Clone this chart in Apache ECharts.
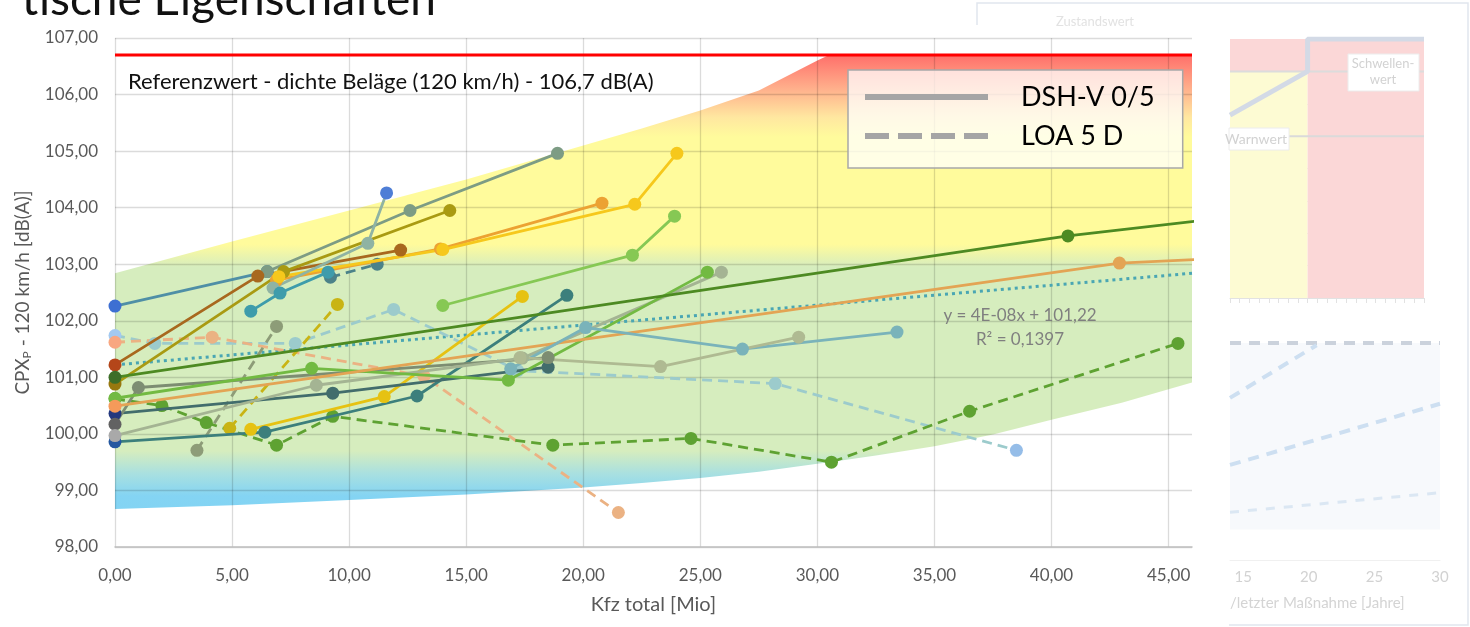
<!DOCTYPE html>
<html>
<head>
<meta charset="utf-8">
<title>CPX - Kfz total</title>
<script src="https://cdn.jsdelivr.net/npm/echarts@6/dist/echarts.min.js"></script>
<style>
  html, body { margin: 0; padding: 0; background: #fff; }
  #chart { width: 1470px; height: 627px; }
</style>
</head>
<body>
<div id="chart"></div>
<script>
// --- axes ---
var xMin = 0, xMax = 46, xStep = 5;
var yMin = 98, yMax = 107, yStep = 1;

// --- background band (Kfz total, dB(A)) ---
var bandX     = [0, 5, 10, 15, 20, 22.5, 25, 27.5, 30, 30.5, 32.5, 35, 37.5, 40, 43, 46];
var bandUpper = [102.84, 103.4, 103.95, 104.5, 105.1, 105.4, 105.72, 106.07, 106.6, 106.7, 106.7, 106.7, 106.7, 106.7, 106.7, 106.7];
var bandLower = [98.67, 98.74, 98.83, 98.93, 99.05, 99.13, 99.22, 99.33, 99.47, 99.5, 99.62, 99.78, 99.99, 100.25, 100.55, 100.91];

// reference value and trend line
var refValue = 106.7;
var trendLine = [[0, 101.22], [46, 102.84]];

// --- DSH-V 0/5 (solid) ---
var dshTeal1  = [[0, 102.26], [6.5, 102.87]];
var dshSage   = [[6.5, 102.87], [12.6, 103.95], [18.9, 104.96]];
var dshBrown  = [[0, 101.22], [6.1, 102.79], [12.2, 103.25]];
var dshOlive  = [[0, 100.88], [7.2, 102.87], [14.3, 103.95]];
var dshOrange = [[6.9, 102.72], [13.9, 103.27], [20.8, 104.08]];
var dshYellow = [[7.0, 102.78], [14.0, 103.26], [22.2, 104.06], [24.0, 104.96]];
var dshMist   = [[6.75, 102.58], [10.8, 103.37], [11.6, 104.26]];
var dshTeal2  = [[5.8, 102.17], [7.05, 102.49], [9.1, 102.86]];
var dshLime   = [[14.0, 102.27], [22.1, 103.16], [23.9, 103.85]];
var dshGold   = [[5.8, 100.08], [11.5, 100.66], [17.4, 102.43]];
var dshPetrol = [[0, 99.86], [6.4, 100.03], [12.9, 100.67], [19.3, 102.45]];
var dshSlate  = [[0, 100.36], [9.3, 100.72], [18.5, 101.18]];
var dshMoss   = [[0, 100.17], [1.0, 100.82], [18.5, 101.35]];
var dshStone  = [[0, 99.97], [8.6, 100.86], [17.4, 101.34], [25.9, 102.86]];
var dshGrass  = [[0, 100.63], [8.4, 101.16], [16.8, 100.95], [25.3, 102.86]];
var dshForest = [[0, 101.0], [40.7, 103.5], [47, 103.8]];
var dshTan    = [[0, 100.49], [42.9, 103.02], [47, 103.1]];
var dshAqua   = [[16.9, 101.15], [20.1, 101.88], [26.8, 101.5], [33.4, 101.8]];
var dshKhaki  = [[17.3, 101.35], [23.3, 101.19], [29.2, 101.71]];

// --- LOA 5 D (dashed) ---
var loaAqua   = [[0, 101.74], [1.7, 101.6], [7.7, 101.6], [11.9, 102.2], [17.2, 101.12], [28.2, 100.89], [38.5, 99.71]];
var loaSalmon = [[0, 101.62], [4.15, 101.71], [13.2, 101.02], [21.5, 98.61]];
var loaGreen  = [[0, 100.62], [2.0, 100.5], [3.9, 100.2], [6.9, 99.8], [9.3, 100.31], [18.7, 99.8], [24.6, 99.92], [30.6, 99.5], [36.5, 100.4], [45.4, 101.6]];
var loaMoss   = [[3.5, 99.71], [6.9, 101.9]];
var loaGold   = [[4.9, 100.1], [9.5, 102.29]];
var loaPetrol = [[9.2, 102.77], [11.2, 103.0]];

// --- faded inset (top right) ---
var insetZones = [[0, 0, 4, 7], [0, 7, 4, 8], [4, 0, 10, 8]];
var insetThreshold = [[0, 5.65], [4, 7], [4, 8], [10, 8]];
var insetWarn = [[0, 5], [10, 5]];
var insetUpper = [[0, 7], [10, 7]];

// --- faded inset (bottom right) ---
var insetYears = [15, 20, 25, 30];
var insetTop  = [[14, 10], [30, 10]];
var insetRise = [[14, 7.47], [20.6, 9.9]];
var insetMid  = [[14, 4.38], [30, 7.2]];
var insetLow  = [[14, 2.2], [30, 3.1]];

var chart = echarts.init(document.getElementById('chart'));

var styles = [
  { data: dshTeal1,  color: '#4f8fa6', first: '#3d6fd2' },
  { data: dshSage,   color: '#7d9c84' },
  { data: dshBrown,  color: '#a8681e', first: '#b4461a' },
  { data: dshOlive,  color: '#a99a12', first: '#97780f' },
  { data: dshOrange, color: '#eca232' },
  { data: dshYellow, color: '#f6c81c' },
  { data: dshMist,   color: '#8fb3a3', last: '#4f7ed6' },
  { data: dshTeal2,  color: '#3e9cab' },
  { data: dshLime,   color: '#86c854' },
  { data: dshGold,   color: '#e6c212' },
  { data: dshPetrol, color: '#3c7f7c', first: '#2458a0' },
  { data: dshSlate,  color: '#426d6c', first: '#24387e' },
  { data: dshMoss,   color: '#7d8d72', first: '#626262' },
  { data: dshStone,  color: '#a4b493', first: '#a9a9a9' },
  { data: dshGrass,  color: '#72ba42' },
  { data: dshForest, color: '#4d8a22', first: '#3d6e28' },
  { data: dshTan,    color: '#e3a454', first: '#f59a5a' },
  { data: dshAqua,   color: '#7ab3ba' },
  { data: dshKhaki,  color: '#afba92' },
  { data: loaAqua,   color: '#9ccbcc', dash: true, first: '#a3c9f0', last: '#95bde8' },
  { data: loaSalmon, color: '#ebb283', dash: true, first: '#f8a781' },
  { data: loaGreen,  color: '#5ea232', dash: true },
  { data: loaMoss,   color: '#8d9c78', dash: true },
  { data: loaGold,   color: '#c9b414', dash: true },
  { data: loaPetrol, color: '#4b8289', dash: true }
];

function fmt(v) { return v.toFixed(2).replace('.', ','); }

var series = [];

// gradient band under the data
series.push({
  type: 'custom',
  z: -1,
  silent: true,
  clip: true,
  data: [0],
  renderItem: function (params, api) {
    var pts = [], i;
    for (i = 0; i < bandX.length; i++) pts.push(api.coord([bandX[i], bandUpper[i]]));
    for (i = bandX.length - 1; i >= 0; i--) pts.push(api.coord([bandX[i], bandLower[i]]));
    var top = api.coord([0, yMax])[1], bottom = api.coord([0, yMin])[1];
    var at = function (v) { return (api.coord([0, v])[1] - top) / (bottom - top); };
    var fill = new echarts.graphic.LinearGradient(0, top, 0, bottom, [
      { offset: at(106.7), color: '#ff6f6a' },
      { offset: at(106.1), color: '#ffb08c' },
      { offset: at(105.6), color: '#ffe7a0' },
      { offset: at(105.25), color: '#fffb9c' },
      { offset: at(103.35), color: '#fffb9c' },
      { offset: at(102.95), color: '#d6edbe' },
      { offset: at(99.7), color: '#d6edbe' },
      { offset: at(99.3), color: '#a9e0e0' },
      { offset: at(98.9), color: '#84d4f3' },
      { offset: 1, color: '#7fd2f4' }
    ], true);
    return { type: 'polygon', shape: { points: pts }, style: { fill: fill } };
  }
});

// reference line
series.push({
  type: 'line', data: [[xMin, refValue], [xMax, refValue]],
  symbol: 'none', silent: true, z: 3,
  lineStyle: { color: '#ff0000', width: 3 }
});

// trend line (dotted)
series.push({
  type: 'line', data: trendLine, symbol: 'none', silent: true, z: 3,
  lineStyle: { color: '#4aa6b3', width: 3, type: [3, 4] }
});

styles.forEach(function (s) {
  var n = s.data.length;
  series.push({
    type: 'line',
    clip: true,
    z: s.dash ? 4 : 5,
    symbol: 'circle',
    symbolSize: 13,
    showAllSymbol: true,
    itemStyle: { color: s.color },
    lineStyle: { color: s.color, width: 2.8, type: s.dash ? [10, 6] : 'solid' },
    data: s.data.map(function (p, i) {
      var c = (i === 0 && s.first) ? s.first : ((i === n - 1 && s.last) ? s.last : null);
      return c ? { value: p, itemStyle: { color: c } } : { value: p };
    })
  });
});

// legend entries
series.push({
  name: 'DSH-V 0/5', type: 'line', data: [], symbol: 'none',
  itemStyle: { color: '#a5a5a5' }, lineStyle: { color: '#a5a5a5', width: 6 }
});
series.push({
  name: 'LOA 5 D', type: 'line', data: [], symbol: 'none',
  itemStyle: { color: '#a5a5a5' }, lineStyle: { color: '#a5a5a5', width: 6, type: [24, 9] }
});

// inset top right
var zoneColors = ['#fdfbd3', '#fbd7d7', '#fbd7d7'];
series.push({
  type: 'line', xAxisIndex: 1, yAxisIndex: 1, data: insetThreshold, symbol: 'none', silent: true,
  lineStyle: { color: '#d3dae6', width: 5 },
  markArea: {
    silent: true,
    data: insetZones.map(function (z, i) {
      return [{ xAxis: z[0], yAxis: z[1], itemStyle: { color: zoneColors[i] } }, { xAxis: z[2], yAxis: z[3] }];
    })
  }
});
series.push({
  type: 'line', xAxisIndex: 1, yAxisIndex: 1, data: insetWarn, symbol: 'none', silent: true, z: 1,
  lineStyle: { color: '#dadada', width: 2 }
});
series.push({
  type: 'line', xAxisIndex: 1, yAxisIndex: 1, data: insetUpper, symbol: 'none', silent: true, z: 1,
  lineStyle: { color: '#dcdcdc', width: 2 }
});

// inset bottom right
series.push({
  type: 'line', xAxisIndex: 2, yAxisIndex: 2, data: insetTop, symbol: 'none', silent: true,
  lineStyle: { color: '#cbd2dc', width: 4, type: [11, 8] },
  markArea: {
    silent: true,
    data: [[{ xAxis: 14, yAxis: 1.4, itemStyle: { color: '#f7f9fc' } }, { xAxis: 30, yAxis: 10 }]]
  }
});
series.push({
  type: 'line', xAxisIndex: 2, yAxisIndex: 2, data: insetRise, symbol: 'none', silent: true,
  lineStyle: { color: '#cddff1', width: 4, type: [11, 8] }
});
series.push({
  type: 'line', xAxisIndex: 2, yAxisIndex: 2, data: insetMid, symbol: 'none', silent: true,
  lineStyle: { color: '#cddff1', width: 4, type: [11, 8] }
});
series.push({
  type: 'line', xAxisIndex: 2, yAxisIndex: 2, data: insetLow, symbol: 'none', silent: true,
  lineStyle: { color: '#dbe7f3', width: 3, type: [9, 9] }
});

var gridLine = { lineStyle: { color: 'rgba(0,0,0,0.14)', width: 1.3 } };
var labelStyle = { color: '#595959', fontSize: 17, fontFamily: 'Lato' };

chart.setOption({
  animation: false,
  textStyle: { fontFamily: 'Lato' },
  grid: [
    { left: 115, top: 38, right: 278, bottom: 80 },
    { left: 1230, top: 39, width: 194, height: 259 },
    { left: 1230, right: 30, top: 343, bottom: 67 }
  ],
  legend: {
    data: [
      { name: 'DSH-V 0/5' },
      { name: 'LOA 5 D', lineStyle: { type: [24, 9] } }
    ],
    orient: 'vertical',
    left: 848, top: 70,
    padding: [12, 28, 17, 14],
    itemWidth: 123, itemHeight: 20, itemGap: 9,
    backgroundColor: 'rgba(255,255,255,0.74)',
    borderColor: '#a8a8a8', borderWidth: 1.5,
    selectedMode: false,
    itemStyle: { opacity: 0 },
    lineStyle: { width: 6, color: '#a5a5a5', cap: 'butt' },
    textStyle: { fontSize: 27, color: '#000', fontFamily: 'Lato', lineHeight: 30, padding: [0, 0, 0, 28] }
  },
  xAxis: [
    {
      type: 'value', min: xMin, max: xMax, interval: xStep,
      name: 'Kfz total [Mio]', nameLocation: 'middle', nameGap: 48,
      nameTextStyle: { color: '#595959', fontSize: 20 },
      axisLine: { lineStyle: { color: '#bfbfbf', width: 1.5 } },
      axisTick: { show: false },
      axisLabel: Object.assign({ margin: 20, showMaxLabel: false, formatter: fmt }, labelStyle),
      splitLine: Object.assign({ showMaxLine: false }, gridLine)
    },
    {
      gridIndex: 1, type: 'value', min: 0, max: 10, interval: 0.5,
      axisLabel: { show: false },
      axisLine: { lineStyle: { color: '#e2e2e2' } },
      axisTick: { lineStyle: { color: '#e2e2e2' } },
      splitLine: { show: false }
    },
    {
      gridIndex: 2, type: 'value', min: 14, max: 30,
      axisLabel: { customValues: insetYears, color: '#d2d2d2', fontSize: 15, margin: 10 },
      axisLine: { lineStyle: { color: '#f0f0f0' } },
      axisTick: { show: false },
      splitLine: { show: false }
    }
  ],
  yAxis: [
    {
      type: 'value', min: yMin, max: yMax, interval: yStep,
      name: 'CPX{p|P} - 120 km/h [dB(A)]', nameLocation: 'middle', nameGap: 82,
      nameTextStyle: {
        color: '#595959', fontSize: 19,
        rich: { p: { fontSize: 12, color: '#595959', verticalAlign: 'bottom', padding: [8, 0, 0, 0] } }
      },
      axisLine: { show: false },
      axisTick: { show: false },
      axisLabel: Object.assign({ margin: 17, formatter: fmt }, labelStyle),
      splitLine: gridLine
    },
    {
      gridIndex: 1, type: 'value', min: 0, max: 8, interval: 1,
      axisLabel: { show: false }, axisLine: { show: false }, axisTick: { show: false },
      splitLine: { lineStyle: { color: '#e6e6e6' } }
    },
    {
      gridIndex: 2, type: 'value', min: 0, max: 10,
      axisLabel: { show: false }, axisLine: { show: false }, axisTick: { show: false },
      splitLine: { show: false }
    }
  ],
  graphic: [
    { type: 'text', style: { text: 'tische Eigenschaften', x: 436, y: 0, textAlign: 'right', textVerticalAlign: 'middle', font: '46px Lato', fill: '#111' } },
    { type: 'text', z: 10, style: { text: 'Referenzwert - dichte Beläge (120 km/h) - 106,7 dB(A)', x: 128, y: 82, textVerticalAlign: 'middle', font: '22px Lato', fill: '#111' } },
    { type: 'text', z: 10, style: { text: 'y = 4E-08x + 101,22', x: 1020, y: 316, textAlign: 'center', textVerticalAlign: 'middle', font: '17px Lato', fill: '#7f7f7f' } },
    { type: 'text', z: 10, style: { text: 'R² = 0,1397', x: 1020, y: 340, textAlign: 'center', textVerticalAlign: 'middle', font: '17px Lato', fill: '#7f7f7f' } },
    // faded panel on the right
    { type: 'polyline', silent: true, shape: { points: [[977, 25], [977, 3], [1468, 3], [1468, 625], [1229, 625]] }, style: { stroke: '#e1e6ee', lineWidth: 1.5, fill: null } },
    { type: 'text', style: { text: 'Zustandswert', x: 1095, y: 22, textAlign: 'center', textVerticalAlign: 'middle', font: '13px Lato', fill: '#e2e2e2' } },
    { type: 'rect', z: 6, shape: { x: 1229, y: 128, width: 60, height: 22 }, style: { fill: '#fff', stroke: '#ececec' } },
    { type: 'text', z: 7, style: { text: 'Warnwert', x: 1287, y: 139, textAlign: 'right', textVerticalAlign: 'middle', font: '14px Lato', fill: '#d2d2d2' } },
    { type: 'rect', z: 6, shape: { x: 1348, y: 54, width: 71, height: 37 }, style: { fill: '#fff', stroke: '#ececec' } },
    { type: 'text', z: 7, style: { text: 'Schwellen-\nwert', x: 1383, y: 72, textAlign: 'center', textVerticalAlign: 'middle', font: '13px Lato', lineHeight: 16, fill: '#d2d2d2' } },
    { type: 'text', style: { text: '/letzter Maßnahme [Jahre]', x: 1230, y: 603, textVerticalAlign: 'middle', font: '15px Lato', fill: '#d4d4d4' } }
  ],
  series: series
});
</script>
</body>
</html>
